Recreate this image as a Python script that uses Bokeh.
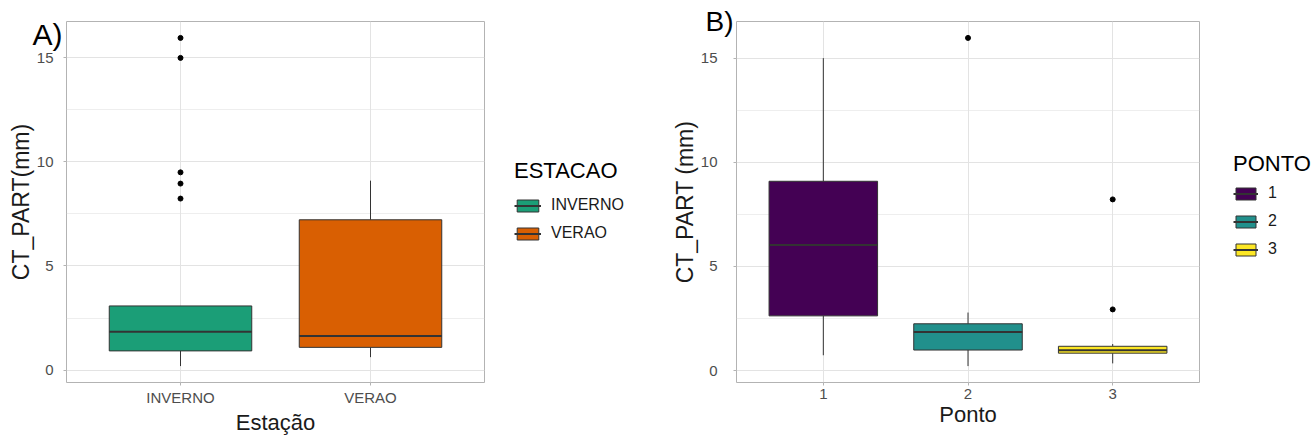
from bokeh.plotting import figure
from bokeh.layouts import row
from bokeh.models import (Range1d, FixedTicker, Legend, LegendItem, Title,
                          ColumnDataSource)
from bokeh.embed import file_html
from bokeh.resources import INLINE

# ---------------- data ----------------
# Panel A: CT_PART by season
season = ["INVERNO", "VERAO"]
season_colors = ["#1B9E77", "#D95F02"]
season_low = [0.19, 0.62]
season_q1 = [0.92, 1.09]
season_med = [1.84, 1.63]
season_q3 = [3.08, 7.22]
season_high = [3.08, 9.10]
season_outliers = {"INVERNO": [15.96, 15.0, 9.50, 8.96, 8.24], "VERAO": []}

# Panel B: CT_PART by point
ponto = ["1", "2", "3"]
ponto_colors = ["#440154", "#21908C", "#FDE725"]
ponto_low = [0.74, 0.22, 0.35]
ponto_q1 = [2.63, 0.99, 0.84]
ponto_med = [6.03, 1.86, 0.98]
ponto_q3 = [9.09, 2.25, 1.17]
ponto_high = [15.0, 2.79, 1.28]
ponto_outliers = {"1": [], "2": [15.97], "3": [8.22, 2.94]}

y_ticks = [0, 5, 10, 15]
y_minor = [2.5, 7.5, 12.5]

FONT = "Liberation Sans"
GRID = "#E3E3E3"
BORDER = "#B3B3B3"
EDGE = "#333333"
H = 439


def boxplot(cats, colors, low, q1, med, q3, high, outl, width, left, right,
            top, bottom, xlabel, ylabel, tag, tag_dx, tag_standoff, tag_size,
            xtick_standoff, xlab_standoff, ytick_standoff):
    n = len(cats)
    xs = [i + 1 for i in range(n)]
    allv = low + high + [v for c in cats for v in outl[c]]
    lo, hi = min(allv), max(allv)
    pad = (hi - lo) * 0.05
    y0, y1 = lo - pad, hi + pad

    p = figure(width=width, height=H, output_backend="svg",
               toolbar_location=None, x_range=Range1d(0.4, n + 0.6),
               y_range=Range1d(y0, y1),
               min_border_left=left, min_border_right=right,
               min_border_top=top, min_border_bottom=bottom)
    p.outline_line_color = BORDER
    p.outline_line_width = 1
    p.background_fill_color = "white"
    p.border_fill_color = "white"

    p.xaxis.ticker = FixedTicker(ticks=xs)
    p.xaxis.major_label_overrides = {x: c for x, c in zip(xs, cats)}
    p.yaxis.ticker = FixedTicker(ticks=y_ticks, minor_ticks=y_minor)
    for ax in (p.xaxis, p.yaxis):
        ax.axis_line_color = None
        ax.major_tick_line_color = BORDER
        ax.major_tick_in = 0
        ax.major_tick_out = 3
        ax.minor_tick_line_color = None
        ax.major_label_text_font = FONT
        ax.major_label_text_font_size = "15px"
        ax.major_label_text_color = "#4D4D4D"
        ax.axis_label_text_font = FONT
        ax.axis_label_text_font_style = "normal"
        ax.axis_label_text_color = "#1A1A1A"
    p.xaxis.axis_label = xlabel
    p.yaxis.axis_label = ylabel
    p.xaxis.axis_label_text_font_size = "22px"
    p.yaxis.axis_label_text_font_size = "23px"
    p.xaxis.major_label_standoff = xtick_standoff
    p.xaxis.axis_label_standoff = xlab_standoff
    p.yaxis.major_label_standoff = ytick_standoff
    p.yaxis.axis_label_standoff = 0

    p.xgrid.grid_line_color = GRID
    p.ygrid.grid_line_color = GRID
    p.ygrid.minor_grid_line_color = GRID
    p.ygrid.minor_grid_line_width = 0.6

    src = ColumnDataSource(dict(x=xs, low=low, q1=q1, med=med, q3=q3,
                                high=high, color=colors,
                                left=[x - 0.375 for x in xs],
                                right=[x + 0.375 for x in xs]))
    p.segment(x0="x", y0="q3", x1="x", y1="high", source=src,
              line_color=EDGE, line_width=1)
    p.segment(x0="x", y0="low", x1="x", y1="q1", source=src,
              line_color=EDGE, line_width=1)
    p.vbar(x="x", width=0.75, bottom="q1", top="q3", source=src,
           fill_color="color", line_color=EDGE, line_width=1)
    p.segment(x0="left", y0="med", x1="right", y1="med", source=src,
              line_color=EDGE, line_width=2)

    ox, oy = [], []
    for x, c in zip(xs, cats):
        for v in outl[c]:
            ox.append(x)
            oy.append(v)
    p.scatter(ox, oy, size=5, color="black")

    t = Title(text=tag, align="left", offset=tag_dx, standoff=tag_standoff,
              vertical_align="bottom", text_font=FONT, text_font_size=tag_size,
              text_font_style="normal", text_color="black")
    p.add_layout(t, "above")
    return p, src


def legend_panel(src, cats, width, title, vx, vy, glyph_w, title_standoff,
                 spacing):
    q = figure(width=width, height=H, output_backend="svg",
               toolbar_location=None, x_range=Range1d(0, 1),
               y_range=Range1d(0, 1), x_axis_location=None,
               y_axis_location=None, min_border=0)
    q.outline_line_color = None
    q.background_fill_color = "white"
    q.border_fill_color = "white"
    q.xgrid.visible = False
    q.ygrid.visible = False
    boxes = q.vbar(x="x", width=0.75, bottom="q1", top="q3", source=src,
                   fill_color="color", line_color=EDGE, line_width=1,
                   visible=False)
    meds = q.segment(x0="left", y0="med", x1="right", y1="med", source=src,
                     line_color=EDGE, line_width=2, visible=False)
    items = [LegendItem(label=c, renderers=[boxes, meds], index=i)
             for i, c in enumerate(cats)]
    leg = Legend(items=items, title=title, location=(vx, vy),
                 orientation="vertical")
    leg.title_text_font = FONT
    leg.title_text_font_size = "22px"
    leg.title_text_font_style = "normal"
    leg.title_text_color = "black"
    leg.title_standoff = title_standoff
    leg.label_text_font = FONT
    leg.label_text_font_size = "16px"
    leg.label_text_color = "#1A1A1A"
    leg.glyph_width = glyph_w
    leg.glyph_height = 15
    leg.label_standoff = 10
    leg.spacing = spacing
    leg.padding = 0
    leg.margin = 0
    leg.border_line_color = None
    leg.background_fill_alpha = 0
    q.add_layout(leg)
    return q


p1, src1 = boxplot(season, season_colors, season_low, season_q1, season_med,
                   season_q3, season_high, season_outliers,
                   width=500, left=66, right=16, top=20, bottom=H - 382,
                   xlabel="Estação", ylabel="CT_PART(mm)",
                   tag="\nA)", tag_dx=-34, tag_standoff=-59, tag_size="30px",
                   xtick_standoff=3, xlab_standoff=1, ytick_standoff=9)
l1 = legend_panel(src1, season, width=160, title="ESTACAO", vx=14, vy=140,
                  glyph_w=27, title_standoff=12, spacing=10)

p2, src2 = boxplot(ponto, ponto_colors, ponto_low, ponto_q1, ponto_med,
                   ponto_q3, ponto_high, ponto_outliers,
                   width=545, left=76, right=6, top=21, bottom=H - 387,
                   xlabel="Ponto", ylabel="CT_PART (mm)",
                   tag="B)", tag_dx=-31, tag_standoff=-30, tag_size="28px",
                   xtick_standoff=3, xlab_standoff=0, ytick_standoff=15)
l2 = legend_panel(src2, ponto, width=108, title="PONTO", vx=28, vy=124,
                  glyph_w=25, title_standoff=7, spacing=10)

layout = row(p1, l1, p2, l2)
open("out.html", "w").write(file_html(layout, INLINE))
